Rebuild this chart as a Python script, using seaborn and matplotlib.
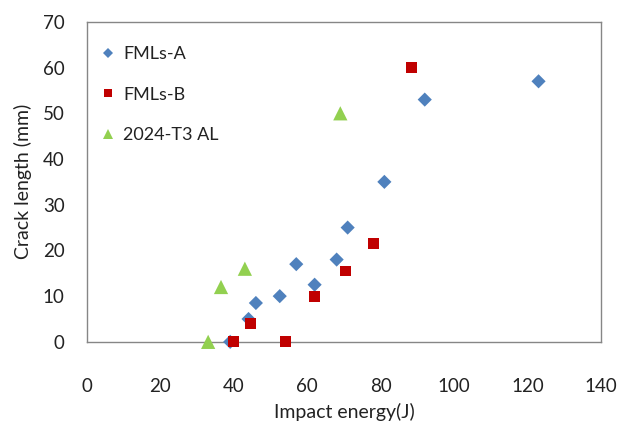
import matplotlib
matplotlib.use("Agg")
import matplotlib.pyplot as plt
import seaborn as sns
import pandas as pd

series_names = ["FMLs-A", "FMLs-B", "2024-T3 AL"]
fmls_a_x = [39, 44, 46, 52.5, 57, 62, 68, 71, 81, 92, 123]
fmls_a_y = [0, 5, 8.5, 10, 17, 12.5, 18, 25, 35, 53, 57]
fmls_b_x = [40, 44.5, 54, 62, 70.5, 78, 88.5]
fmls_b_y = [0, 4, 0, 10, 15.5, 21.5, 60]
al_x = [33, 36.5, 43, 69]
al_y = [0, 12, 16, 50]
x_ticks = [0, 20, 40, 60, 80, 100, 120, 140]
y_ticks = [0, 10, 20, 30, 40, 50, 60, 70]

df = pd.concat([
    pd.DataFrame({"x": fmls_a_x, "y": fmls_a_y, "series": series_names[0]}),
    pd.DataFrame({"x": fmls_b_x, "y": fmls_b_y, "series": series_names[1]}),
    pd.DataFrame({"x": al_x, "y": al_y, "series": series_names[2]}),
])

sns.set_style("white")
plt.rcParams["font.family"] = ["Lato", "DejaVu Sans"]

fig = plt.figure(figsize=(6.26, 4.21), dpi=100)
ax = fig.add_axes([0.139, 0.188, 0.821, 0.760])

palette = {"FMLs-A": "#4F81BD", "FMLs-B": "#C00000", "2024-T3 AL": "#92D050"}
markers = {"FMLs-A": "D", "FMLs-B": "s", "2024-T3 AL": "^"}
sizes = {"FMLs-A": 52, "FMLs-B": 62, "2024-T3 AL": 105}
sns.scatterplot(data=df, x="x", y="y", hue="series", style="series", size="series",
                palette=palette, markers=markers, sizes=sizes, linewidth=0,
                ax=ax, clip_on=False, zorder=3)

ax.set_xlim(0, 140)
ax.set_ylim(0, 70)
ax.set_xticks(x_ticks)
ax.set_yticks(y_ticks)
for sp in ax.spines.values():
    sp.set_color("#868686")
    sp.set_linewidth(1.0)
ax.tick_params(axis="x", direction="in", length=6, color="#868686", labelsize=13.5,
               pad=26, labelcolor="#222222")
ax.tick_params(axis="y", direction="out", length=6, color="#868686", labelsize=13.5,
               pad=10, labelcolor="#222222")
ax.set_xlabel("Impact energy(J)", fontsize=14, color="#222222", labelpad=6)
ax.set_ylabel("Crack length (mm)", fontsize=14, color="#222222", labelpad=8)

leg = ax.legend(loc="upper left", bbox_to_anchor=(-0.025, 0.975), frameon=False,
                fontsize=13, labelspacing=1.35, handletextpad=-0.2,
                markerscale=0.65, title=None)
for t in leg.get_texts():
    t.set_color("#222222")

fig.savefig("out.png", dpi=100)
